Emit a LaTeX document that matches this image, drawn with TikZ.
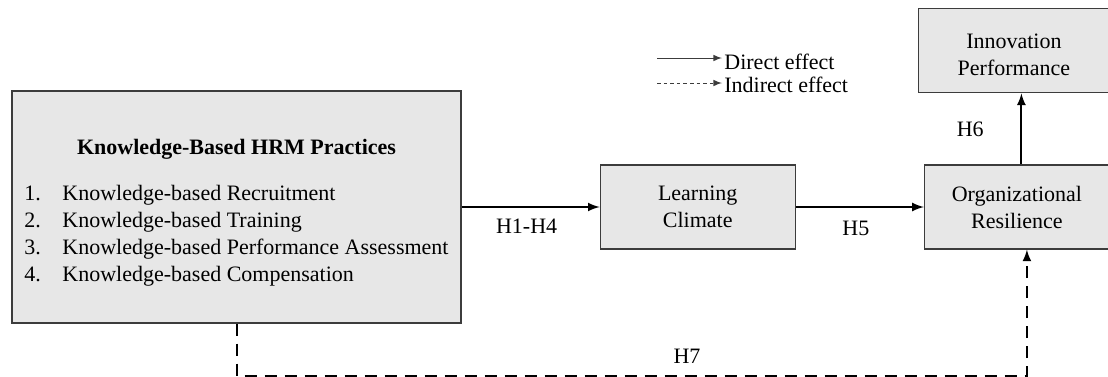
\documentclass[tikz,border=0pt]{standalone}
\usepackage{fontspec}
\setmainfont{Liberation Serif}
\usepackage{xcolor}
\usepackage{tikz}
\usetikzlibrary{arrows, positioning}
\definecolor{boxfill}{RGB}{231,231,231}
\definecolor{boxline}{RGB}{60,60,60}
\tikzstyle{construct} = [rectangle, minimum width=97.5pt, minimum height=42pt, inner sep=0pt, text centered, align=center, draw=boxline, line width=0.6pt, fill=boxfill]
\tikzstyle{arrow} = [line width=1pt,->,>=latex]
\tikzstyle{dasharrow} = [line width=1pt,->,>=latex, dash pattern=on 6pt off 4pt]
\tikzstyle{keyarrow} = [line width=0.5pt,->,>=latex, draw=boxline]

\begin{document}
\begin{tikzpicture}[font=\fontsize{11}{13.5}\selectfont]
            \useasboundingbox (0,0) rectangle (554pt,-188pt);

            \node[construct, minimum width=224.5pt, minimum height=116pt] (kbhrm) at (118.25pt,-103.5pt) {\rule{0pt}{15pt}\textbf{Knowledge-Based HRM Practices}\\[10.5pt]
                \begin{tabular}{@{}l@{}l@{}}
                \makebox[19pt][l]{1.} & Knowledge-based Recruitment\\
                \makebox[19pt][l]{2.} & Knowledge-based Training\\
                \makebox[19pt][l]{3.} & Knowledge-based Performance Assessment\\
                \makebox[19pt][l]{4.} & Knowledge-based Compensation
                \end{tabular}};

            \node[construct, right=69pt of kbhrm] (climate) {Learning\\Climate};
            \node[construct, minimum width=92.5pt, right=64pt of climate] (resilience) {Organizational\\Resilience};
            \node[construct, minimum width=95.5pt, above=35.5pt of resilience, xshift=-1.5pt] (innovation) {\rule{0pt}{11pt}Innovation\\Performance};

            % legend
            \coordinate (direct a) at (328.5pt,-29pt);
            \coordinate (direct b) at (361pt,-29pt);
            \coordinate (indirect a) at (328.5pt,-41.5pt);
            \coordinate (indirect b) at (361pt,-41.5pt);
            \draw[keyarrow] (direct a) -- (direct b);
            \draw[keyarrow, dash pattern=on 1.8pt off 1.5pt] (indirect a) -- (indirect b);
            \node[anchor=west, inner sep=1pt, yshift=-2pt] (directtxt) at (direct b) {Direct effect};
            \node[anchor=west, inner sep=1pt, yshift=-1pt] (indirecttxt) at (indirect b) {Indirect effect};

            \draw[arrow] (kbhrm) -- node[midway, below=2pt, xshift=-2pt] {H1-H4} (climate);
            \draw[arrow] (climate) -- node[midway, below=3pt, xshift=-2pt] {H5} (resilience);
            \draw[arrow] ([xshift=2.25pt]resilience.north) -- node[left=15pt] {H6} ([xshift=2.25pt]resilience.north |- innovation.south);
            \draw[dasharrow] (kbhrm.south) -- ++(0,-26pt) -| node[pos=0.285, above=2pt] {H7} ([xshift=5pt]resilience.south);
        \end{tikzpicture}
\end{document}
